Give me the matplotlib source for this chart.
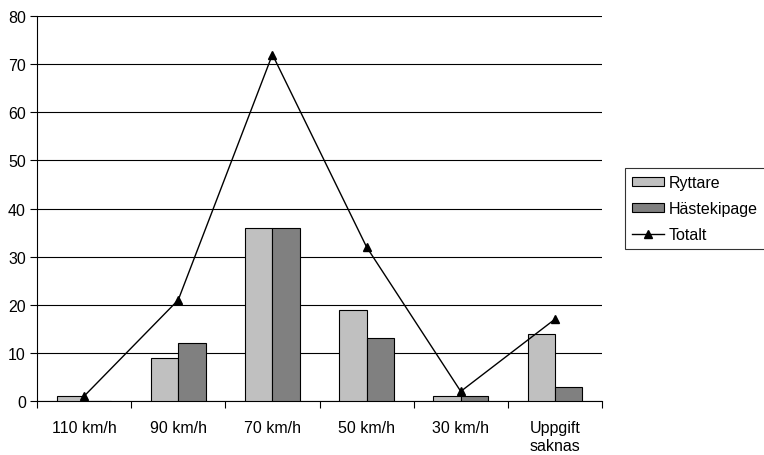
import numpy as np
import matplotlib.pyplot as plt

plt.rcParams['font.family'] = ['Liberation Sans', 'DejaVu Sans']

categories = ['110 km/h', '90 km/h', '70 km/h', '50 km/h', '30 km/h', 'Uppgift\nsaknas']
ryttare = [1, 9, 36, 19, 1, 14]
hastekipage = [0, 12, 36, 13, 1, 3]
totalt = [1, 21, 72, 32, 2, 17]

fig = plt.figure(figsize=(7.64, 4.56), dpi=100)
ax = fig.add_axes([0.0484, 0.1184, 0.7396, 0.8443])

x = np.arange(len(categories)) + 0.5
w = 0.29
b1 = ax.bar(x - w / 2, ryttare, w, color='#C0C0C0', edgecolor='black', linewidth=0.8,
            label='Ryttare', zorder=3)
b2 = ax.bar(x + w / 2, hastekipage, w, color='#808080', edgecolor='black', linewidth=0.8,
            label='Hästekipage', zorder=3)
l1, = ax.plot(x, totalt, color='black', linewidth=1, marker='^', markersize=6,
              label='Totalt', zorder=4)

ax.set_xlim(0, 6)
ax.set_ylim(0, 80)
ax.set_yticks(range(0, 81, 10))
ax.yaxis.grid(True, color='black', linewidth=0.8, zorder=0)
ax.set_axisbelow(True)

ax.set_xticks(range(0, 7))
ax.set_xticklabels([])
ax.set_xticks(x, minor=True)
ax.set_xticklabels(categories, minor=True)
ax.tick_params(axis='x', which='major', length=5, direction='out', color='black')
ax.tick_params(axis='x', which='minor', length=0, pad=14, labelsize=11.5)
ax.tick_params(axis='y', length=5, direction='out', labelsize=11.5, pad=3)

for s in ['top', 'right']:
    ax.spines[s].set_visible(False)

leg = ax.legend([b1, b2, l1], ['Ryttare', 'Hästekipage', 'Totalt'],
                loc='center left', bbox_to_anchor=(1.041, 0.5), frameon=True,
                fancybox=False, edgecolor='black', fontsize=11.5,
                handlelength=2.0, handleheight=0.5, handletextpad=0.35,
                borderpad=0.4, labelspacing=0.7, borderaxespad=0)
leg.get_frame().set_linewidth(0.8)

fig.savefig('out.png', dpi=100)
